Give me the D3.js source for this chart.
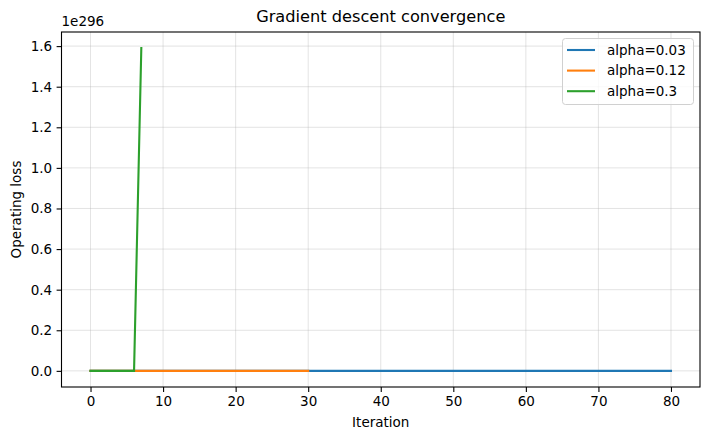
<!DOCTYPE html>
<html><head><meta charset="utf-8">
<script src="https://cdn.jsdelivr.net/npm/d3@7"></script>
<style>body{margin:0;background:#fff}svg{display:block;font-family:"DejaVu Sans",sans-serif}</style>
</head><body><svg id="c" width="710" height="440"></svg>
<script>
// Values in units of 1e296
const seriesNames = ["alpha=0.03", "alpha=0.12", "alpha=0.3"];
const colors = ["#1f77b4", "#ff7f0e", "#2ca02c"];
const lossA003 = [0,0,0,0,0,0,0,0,0,0, 0,0,0,0,0,0,0,0,0,0, 0,0,0,0,0,0,0,0,0,0, 0,0,0,0,0,0,0,0,0,0, 0,0,0,0,0,0,0,0,0,0, 0,0,0,0,0,0,0,0,0,0, 0,0,0,0,0,0,0,0,0,0, 0,0,0,0,0,0,0,0,0,0, 0];
const lossA012 = [0,0,0,0,0,0,0,0,0,0, 0,0,0,0,0,0,0,0,0,0, 0,0,0,0,0,0,0,0,0,0, 0];
const lossA03 = [0,0,0,0,0,0,0,1.59];
const xTicks = [0,10,20,30,40,50,60,70,80];
const yTicks = [0,0.2,0.4,0.6,0.8,1.0,1.2,1.4,1.6];
const series = [lossA003, lossA012, lossA03];

const svg = d3.select("#c");
const L = 61.5, R = 700, T = 32, B = 387;
const x = d3.scaleLinear().domain([-4, 84]).range([L, R]);
const y = d3.scaleLinear().domain([-0.0795, 1.6695]).range([B, T]);
const fs = "13.5px";

// grid
const g = svg.append("g");
g.selectAll(".gx").data(xTicks).enter().append("line")
  .attr("x1", d=>x(d)).attr("x2", d=>x(d)).attr("y1", T).attr("y2", B)
  .attr("stroke", "#b0b0b0").attr("stroke-opacity", 0.35).attr("stroke-width", 1);
g.selectAll(".gy").data(yTicks).enter().append("line")
  .attr("y1", d=>y(d)).attr("y2", d=>y(d)).attr("x1", L).attr("x2", R)
  .attr("stroke", "#b0b0b0").attr("stroke-opacity", 0.35).attr("stroke-width", 1);

// lines
const line = d3.line().x((d,i)=>x(i)).y(d=>y(d));
series.forEach((s, k) => {
  svg.append("path").datum(s).attr("d", line).attr("fill", "none")
    .attr("stroke", colors[k]).attr("stroke-width", 2.1).attr("stroke-linecap", "square");
});

// axes
const xa = svg.append("g").attr("transform", `translate(0,${B})`)
  .call(d3.axisBottom(x).tickValues(xTicks).tickSize(4.9).tickPadding(4.5).tickFormat(d3.format("d")));
const ya = svg.append("g").attr("transform", `translate(${L},0)`)
  .call(d3.axisLeft(y).tickValues(yTicks).tickSize(4.9).tickPadding(4.5).tickFormat(d3.format(".1f")));
[xa, ya].forEach(a => {
  a.select(".domain").remove();
  a.selectAll("line").attr("stroke", "#000").attr("stroke-width", 1.1);
  a.selectAll("text").attr("font-size", fs).attr("font-family", "DejaVu Sans").attr("fill", "#000");
});
svg.append("rect").attr("x", L).attr("y", T).attr("width", R-L).attr("height", B-T)
  .attr("fill", "none").attr("stroke", "#000").attr("stroke-width", 1.1);

// labels
svg.append("text").attr("x", (L+R)/2).attr("y", 22).attr("text-anchor", "middle")
  .attr("font-size", "16.2px").text("Gradient descent convergence");
svg.append("text").attr("x", (L+R)/2).attr("y", 427).attr("text-anchor", "middle")
  .attr("font-size", fs).text("Iteration");
svg.append("text").attr("transform", `translate(21,${(T+B)/2}) rotate(-90)`).attr("text-anchor", "middle")
  .attr("font-size", fs).text("Operating loss");
svg.append("text").attr("x", L).attr("y", 26).attr("font-size", fs).text("1e296");

// legend
const lg = svg.append("g");
lg.append("rect").attr("x", 562.5).attr("y", 38.5).attr("width", 131).attr("height", 66).attr("rx", 3)
  .attr("fill", "#fff").attr("fill-opacity", 0.8).attr("stroke", "#d0d0d0");
seriesNames.forEach((n, k) => {
  const yy = 50 + k*20.6;
  lg.append("line").attr("x1", 567).attr("x2", 595).attr("y1", yy).attr("y2", yy)
    .attr("stroke", colors[k]).attr("stroke-width", 2.1);
  lg.append("text").attr("x", 607).attr("y", yy + 4.8).attr("font-size", fs).text(n);
});
</script></body></html>
